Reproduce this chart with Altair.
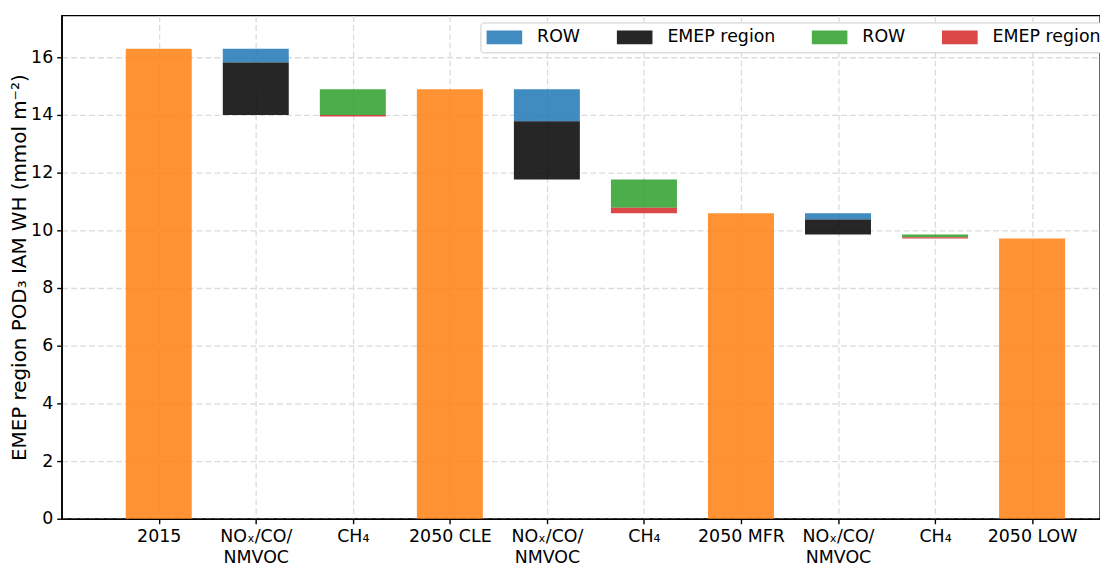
import altair as alt
import pandas as pd

# ---- data ----
tick_labels = [["2015"], ["NOₓ/CO/", "NMVOC"], ["CH₄"], ["2050 CLE"],
               ["NOₓ/CO/", "NMVOC"], ["CH₄"], ["2050 MFR"],
               ["NOₓ/CO/", "NMVOC"], ["CH₄"], ["2050 LOW"]]

scenario_pos = [0, 3, 6, 9]
scenario_val = [16.30, 14.89, 10.59, 9.72]

nox_pos = [1, 4, 7]
nox_row_lo = [15.82, 13.78, 10.38]
nox_row_hi = [16.30, 14.89, 10.59]
nox_emep_lo = [14.00, 11.76, 9.86]
nox_emep_hi = [15.82, 13.78, 10.38]

ch4_pos = [2, 5, 8]
ch4_row_lo = [14.00, 10.78, 9.76]
ch4_row_hi = [14.89, 11.76, 9.86]
ch4_emep_lo = [13.95, 10.59, 9.72]
ch4_emep_hi = [14.00, 10.78, 9.76]

series_keys = ["a|ROW", "b|EMEP region", "c|ROW", "d|EMEP region"]
series_colors = ["#1f77b4", "#000000", "#2ca02c", "#d62728"]

# ---- tables ----
scen_df = pd.DataFrame({"pos": scenario_pos, "lo": [0.0] * 4, "hi": scenario_val})

rows = []
for p, lo, hi in zip(nox_pos, nox_row_lo, nox_row_hi):
    rows.append({"pos": p, "lo": lo, "hi": hi, "key": series_keys[0]})
for p, lo, hi in zip(nox_pos, nox_emep_lo, nox_emep_hi):
    rows.append({"pos": p, "lo": lo, "hi": hi, "key": series_keys[1]})
for p, lo, hi in zip(ch4_pos, ch4_row_lo, ch4_row_hi):
    rows.append({"pos": p, "lo": lo, "hi": hi, "key": series_keys[2]})
for p, lo, hi in zip(ch4_pos, ch4_emep_lo, ch4_emep_hi):
    rows.append({"pos": p, "lo": lo, "hi": hi, "key": series_keys[3]})
seg_df = pd.DataFrame(rows)

HALF = 0.34
FONT = "DejaVu Sans"
FS = 17.5

label_expr = "[" + ",".join(
    "[" + ",".join('"' + s + '"' for s in lab) + "]" for lab in tick_labels
) + "][datum.value]"

x_scale = alt.Scale(domain=[-1.0, 9.7], nice=False, zero=False)
y_scale = alt.Scale(domain=[0, 17.45], nice=False)

x_axis = alt.Axis(values=list(range(10)), labelExpr=label_expr, title=None,
                  labelLineHeight=21, labelBaseline="top")
y_axis = alt.Axis(values=list(range(0, 17, 2)), title="EMEP region POD₃ IAM WH (mmol m⁻²)",
                  titleX=-42, titleY=253, titleAngle=270, titleBaseline="middle",
                  titleAlign="center", titleFontSize=20)

scen = alt.Chart(scen_df).transform_calculate(
    xl=f"datum.pos - {HALF}", xr=f"datum.pos + {HALF}"
).mark_rect(color="#ff7f0e", opacity=0.85).encode(
    x=alt.X("xl:Q", scale=x_scale, axis=x_axis),
    x2="xr:Q",
    y=alt.Y("lo:Q", scale=y_scale, axis=y_axis),
    y2="hi:Q",
)

segs = alt.Chart(seg_df).transform_calculate(
    xl=f"datum.pos - {HALF}", xr=f"datum.pos + {HALF}"
).mark_rect(opacity=0.85).encode(
    x=alt.X("xl:Q", scale=x_scale, axis=x_axis),
    x2="xr:Q",
    y=alt.Y("lo:Q", scale=y_scale, axis=y_axis),
    y2="hi:Q",
    color=alt.Color("key:N",
                    scale=alt.Scale(domain=series_keys, range=series_colors),
                    legend=alt.Legend(
                        orient="none", legendX=421, legendY=7,
                        direction="horizontal", columns=4, title=None,
                        labelExpr="split(datum.label, '|')[1]",
                        symbolType="M-1,-0.39H1V0.39H-1Z", symbolSize=1296,
                        symbolOpacity=0.85, symbolStrokeWidth=0,
                        labelFontSize=FS, labelFont=FONT, labelColor="black",
                        labelOffset=15, columnPadding=36, padding=6,
                        clipHeight=18,
                        strokeColor="#cccccc", fillColor="white", cornerRadius=3,
                    )),
)

chart = alt.layer(scen, segs).properties(
    width=1044, height=506,
    padding={"left": 54, "top": 6, "right": 0, "bottom": 50},
    autosize=alt.AutoSizeParams(type="none"),
).configure_view(
    stroke="black", strokeWidth=1.4
).configure_axis(
    labelFont=FONT, labelFontSize=FS, labelColor="black",
    titleFont=FONT, titleFontSize=FS, titleColor="black", titleFontWeight="normal",
    domainColor="black", domainWidth=1.4,
    tickColor="black", tickWidth=1.4, tickSize=5, labelPadding=4,
    grid=True, gridColor="#dcdcdc", gridWidth=1.3, gridDash=[6, 3],
)

chart.save("out.html", embed_options={"renderer": "svg", "actions": False})
